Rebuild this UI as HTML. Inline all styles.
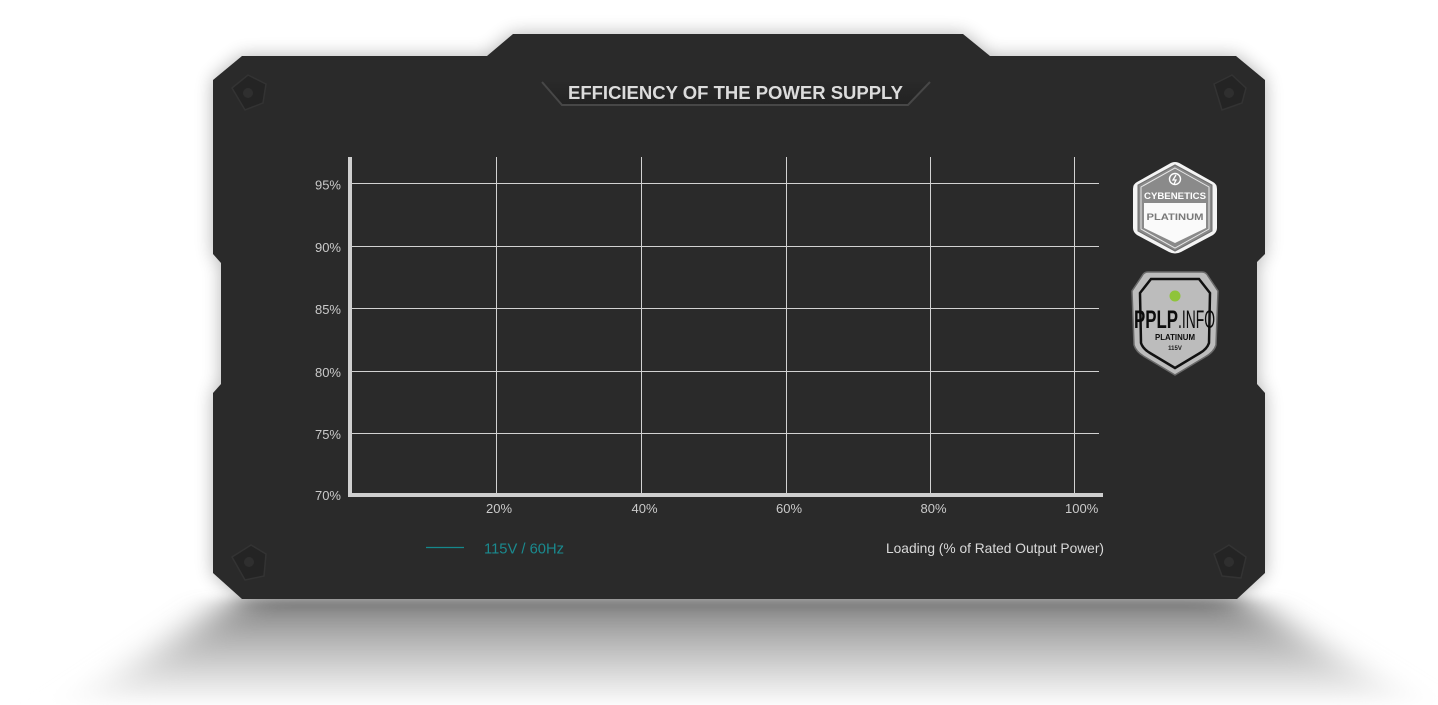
<!DOCTYPE html>
<html><head><meta charset="utf-8"><style>
html,body{margin:0;padding:0;background:#fff;}
svg{display:block;}
</style></head><body>
<svg width="1438" height="705" viewBox="0 0 1438 705" xmlns="http://www.w3.org/2000/svg">
<defs>
  <linearGradient id="sh" x1="0" y1="0" x2="0" y2="1">
    <stop offset="0" stop-color="#7c7c7c"/>
    <stop offset="0.35" stop-color="#b0b0b0"/>
    <stop offset="0.75" stop-color="#e2e2e2"/>
    <stop offset="1" stop-color="#ffffff"/>
  </linearGradient>
  <filter id="blurS" x="-20%" y="-50%" width="140%" height="200%"><feGaussianBlur stdDeviation="26 5"/></filter>
  <filter id="ds" x="-10%" y="-20%" width="120%" height="140%"><feGaussianBlur in="SourceAlpha" stdDeviation="9"/><feComponentTransfer><feFuncA type="linear" slope="0.3"/></feComponentTransfer><feMerge><feMergeNode/><feMergeNode in="SourceGraphic"/></feMerge></filter>
  <linearGradient id="bn" x1="0" y1="0" x2="0" y2="1">
    <stop offset="0" stop-color="#2a2a2a"/>
    <stop offset="1" stop-color="#222"/>
  </linearGradient>
</defs>
<rect width="1438" height="705" fill="#fff"/>
<!-- floor shadow -->
<polygon points="238,598 1242,598 1415,708 75,708" fill="url(#sh)" filter="url(#blurS)"/>
<!-- panel -->
<path filter="url(#ds)" d="M242,56 L487,56 L513,34 L963,34 L990,56 L1236,56 L1265,80 L1265,254 L1257,262 L1257,384 L1265,393 L1265,573 L1237,599 L242,599 L213,573 L213,393 L221,384 L221,263 L213,254 L213,80 Z" fill="#2a2a2a"/>
<!-- corner emblems -->
<g fill="#242424" stroke="#333" stroke-width="1.5">
  <polygon points="232,88 248,75 266,84 263,103 245,110" />
  <polygon points="1214,84 1232,75 1246,88 1242,103 1222,110" />
  <polygon points="232,557 251,545 266,554 264,576 245,580" />
  <polygon points="1214,554 1229,545 1246,557 1241,578 1222,576" />
</g>
<g fill="#2f2f2f">
  <circle cx="248" cy="93" r="5"/><circle cx="1229" cy="93" r="5"/>
  <circle cx="249" cy="562" r="5"/><circle cx="1229" cy="562" r="5"/>
</g>
<!-- title banner -->
<polygon points="540,80 932,80 908,105 562,105" fill="url(#bn)"/>
<polyline points="542,82 562,105 908,105 930,82" fill="none" stroke="#474747" stroke-width="2"/>
<text x="568" y="99" font-family="Liberation Sans, sans-serif" font-weight="bold" font-size="18.5" fill="#dcdcdc" textLength="335" lengthAdjust="spacingAndGlyphs">EFFICIENCY OF THE POWER SUPPLY</text>
<!-- grid -->
<g stroke="#d2d2d2" stroke-width="1">
  <line x1="352" y1="183.5" x2="1099" y2="183.5"/>
  <line x1="352" y1="246.5" x2="1099" y2="246.5"/>
  <line x1="352" y1="308.5" x2="1099" y2="308.5"/>
  <line x1="352" y1="371.5" x2="1099" y2="371.5"/>
  <line x1="352" y1="433.5" x2="1099" y2="433.5"/>
  <line x1="496.5" y1="157" x2="496.5" y2="494"/>
  <line x1="641.5" y1="157" x2="641.5" y2="494"/>
  <line x1="786.5" y1="157" x2="786.5" y2="494"/>
  <line x1="930.5" y1="157" x2="930.5" y2="494"/>
  <line x1="1074.5" y1="157" x2="1074.5" y2="494"/>
</g>
<rect x="348" y="157" width="4" height="340" fill="#cfcfcf"/>
<rect x="348" y="493" width="755" height="4" fill="#cfcfcf"/>
<!-- y labels -->
<g font-family="Liberation Sans, sans-serif" font-size="13" fill="#cacaca" text-anchor="end">
  <text x="341" y="189.5">95%</text>
  <text x="341" y="252">90%</text>
  <text x="341" y="314">85%</text>
  <text x="341" y="377">80%</text>
  <text x="341" y="439">75%</text>
  <text x="341" y="500">70%</text>
</g>
<g font-family="Liberation Sans, sans-serif" font-size="13" fill="#cacaca">
  <text x="486" y="513">20%</text>
  <text x="631.5" y="513">40%</text>
  <text x="776" y="513">60%</text>
  <text x="920.5" y="513">80%</text>
  <text x="1065" y="513">100%</text>
</g>
<!-- legend -->
<line x1="426" y1="547.5" x2="464" y2="547.5" stroke="#15888c" stroke-width="1.2"/>
<text x="484" y="553.5" font-family="Liberation Sans, sans-serif" font-size="14.5" fill="#1a8a8f" textLength="80" lengthAdjust="spacingAndGlyphs">115V / 60Hz</text>
<text x="886" y="553" font-family="Liberation Sans, sans-serif" font-size="14" fill="#dadada" textLength="218" lengthAdjust="spacingAndGlyphs">Loading (% of Rated Output Power)</text>
<!-- Cybenetics badge -->
<g>
  <path d="M1175,162 Q1178,162 1181,164 L1213,182 Q1217,184 1217,189 L1217,228 Q1217,232 1213,235 L1181,252 Q1175,255 1169,252 L1137,235 Q1133,232 1133,228 L1133,189 Q1133,184 1137,182 L1169,164 Q1172,162 1175,162 Z" fill="#f4f4f4"/>
  <path d="M1175,165 L1212,185 L1212,231 L1175,251 L1138,231 L1138,185 Z" fill="#8a8a8a" stroke="#6f6f6f" stroke-width="1"/>
  <path d="M1175,168 L1209,187 L1209,229 L1175,248 L1141,229 L1141,187 Z" fill="none" stroke="#e8e8e8" stroke-width="1"/>
  <path d="M1144,203 L1206,203 L1206,228 L1175,243 L1144,228 Z" fill="#fafafa"/>
  <circle cx="1175" cy="179" r="5.5" fill="none" stroke="#fff" stroke-width="1.4"/>
  <path d="M1176,175 L1173,180 L1176,180 L1174,184" fill="none" stroke="#fff" stroke-width="1.3"/>
  <text x="1175" y="199" text-anchor="middle" font-family="Liberation Sans, sans-serif" font-weight="bold" font-size="9" fill="#fff" textLength="62" lengthAdjust="spacingAndGlyphs">CYBENETICS</text>
  <text x="1175" y="220" text-anchor="middle" font-family="Liberation Sans, sans-serif" font-weight="bold" font-size="9.5" fill="#7a7a7a" textLength="57" lengthAdjust="spacingAndGlyphs">PLATINUM</text>
</g>
<!-- PPLP badge -->
<g>
  <path d="M1148,272 L1202,272 Q1206,272 1208,276 L1218,291 L1216,345 Q1214,352 1205,357 L1175,375 L1145,357 Q1136,352 1134,345 L1132,291 L1142,276 Q1144,272 1148,272 Z" fill="#bcbcbc" stroke="#6a6a6a" stroke-width="1.5"/>
  <path d="M1151,279 L1199,279 L1210,293 L1209,343 Q1207,349 1200,353 L1175,368 L1150,353 Q1143,349 1141,343 L1140,293 Z" fill="none" stroke="#111" stroke-width="2.5"/>
  <circle cx="1175" cy="296" r="5.5" fill="#8fc43a"/>
  <text x="1134" y="328" font-family="Liberation Sans, sans-serif" font-weight="bold" font-size="25" fill="#0c0c0c" textLength="44" lengthAdjust="spacingAndGlyphs">PPLP</text>
  <text x="1178" y="328" font-family="Liberation Sans, sans-serif" font-size="25" fill="#0c0c0c" textLength="37" lengthAdjust="spacingAndGlyphs">.INFO</text>
  <text x="1175" y="340" text-anchor="middle" font-family="Liberation Sans, sans-serif" font-weight="bold" font-size="8.5" fill="#0c0c0c" textLength="40" lengthAdjust="spacingAndGlyphs">PLATINUM</text>
  <text x="1175" y="350" text-anchor="middle" font-family="Liberation Sans, sans-serif" font-weight="bold" font-size="6" fill="#1a1a1a">115V</text>
</g>
</svg>
</body></html>
